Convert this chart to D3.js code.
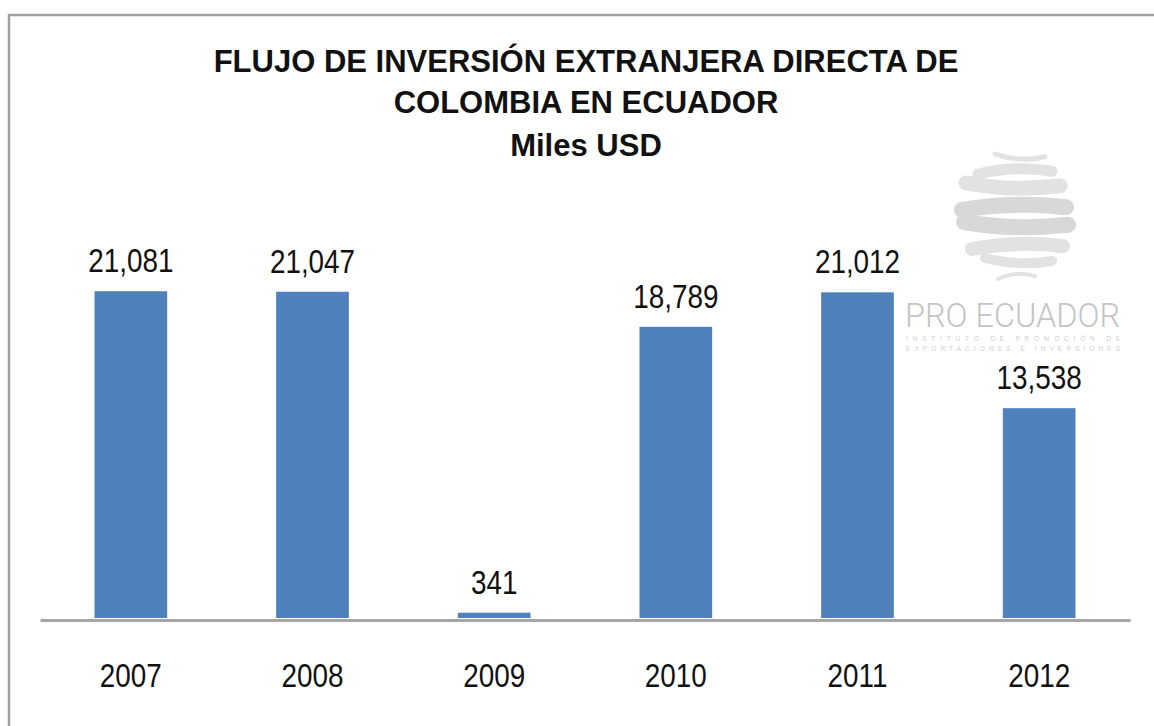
<!DOCTYPE html>
<html><head><meta charset="utf-8">
<script src="https://cdn.jsdelivr.net/npm/d3@7"></script>
<style>
html,body{margin:0;padding:0;background:#fff;}
svg{display:block;}
.nar{font-family:"Liberation Sans",Arial,sans-serif;}
</style></head>
<body><svg id="c" width="1154" height="726"></svg>
<script>
const years = ["2007","2008","2009","2010","2011","2012"];
const values = [21081, 21047, 341, 18789, 21012, 13538];
const titleLines = ["FLUJO DE INVERSIÓN EXTRANJERA DIRECTA DE","COLOMBIA EN ECUADOR","Miles USD"];

const svg = d3.select("#c");
const fmt = d3.format(",");
const SX = 0.82; // narrow font look

// frame (top and left edges visible)
svg.append("path").attr("d","M9,726 V15 H1154").attr("fill","none").attr("stroke","#a0a0a0").attr("stroke-width",2.5);

// watermark logo
const logo = svg.append("g").attr("class","logo");
const swirl = [
  {y:158,x0:995,x1:1045,w:5},
  {y:170,x0:978,x1:1052,w:11},
  {y:187,x0:966,x1:1060,w:15},
  {y:206,x0:962,x1:1066,w:16},
  {y:226,x0:964,x1:1068,w:16},
  {y:245,x0:972,x1:1063,w:14},
  {y:262,x0:985,x1:1052,w:10},
  {y:275,x0:998,x1:1035,w:4}
];
swirl.forEach((s,i)=>{
  const dy = (i%2===0)?-4:4;
  logo.append("path")
    .attr("d",`M${s.x0},${s.y+dy} Q${(s.x0+s.x1)/2},${s.y-dy*1.2} ${s.x1},${s.y+dy*0.3}`)
    .attr("fill","none").attr("stroke",i===3||i===4?"#d8d8d8":"#e2e2e2").attr("stroke-width",s.w).attr("stroke-linecap","round");
});
logo.append("text").attr("x",905).attr("y",327).attr("textLength",215).attr("lengthAdjust","spacingAndGlyphs")
  .attr("font-family","Roboto, 'Liberation Sans', sans-serif").attr("font-weight",300).attr("font-size",34)
  .attr("fill","#c4c4c4").text("PRO ECUADOR");
logo.append("text").attr("x",906).attr("y",341).attr("textLength",214).attr("lengthAdjust","spacing")
  .attr("font-family","'Liberation Sans', sans-serif").attr("font-size",6.5).attr("fill","#cfcfcf").text("INSTITUTO DE PROMOCIÓN DE");
logo.append("text").attr("x",906).attr("y",351).attr("textLength",214).attr("lengthAdjust","spacing")
  .attr("font-family","'Liberation Sans', sans-serif").attr("font-size",6.5).attr("fill","#cfcfcf").text("EXPORTACIONES E INVERSIONES");

// title
const tY = [72,113,156];
svg.append("g").selectAll("text").data(titleLines).join("text")
  .attr("class","nar").attr("x",586).attr("y",(d,i)=>tY[i]).attr("text-anchor","middle")
  .attr("font-weight","bold").attr("font-size",31).attr("fill","#111").text(d=>d);

// scales
const x = d3.scaleBand().domain(years).range([40,1130]).paddingInner(0.6).paddingOuter(0.3);
const y = d3.scaleLinear().domain([0,25000]).range([618, 618-25000*0.0155]);

// bars
svg.append("g").selectAll("rect").data(values).join("rect")
  .attr("x",(d,i)=>x(years[i])).attr("width",x.bandwidth())
  .attr("y",d=>y(d)).attr("height",d=>y(0)-y(d)).attr("fill","#4F81BD");

// axis
const ax = svg.append("g").attr("transform","translate(0,620)")
  .call(d3.axisBottom(x).tickSize(0).tickPadding(0));
ax.select(".domain").attr("stroke","#a6a6a6").attr("stroke-width",3);
ax.selectAll(".tick text").attr("class","nar").attr("font-size",34).attr("fill","#111")
  .attr("dy",0).attr("y",0).attr("transform",`translate(0,67) scale(${SX},1)`);

// value labels
svg.append("g").selectAll("text").data(values).join("text")
  .attr("class","nar")
  .attr("transform",(d,i)=>`translate(${x(years[i])+x.bandwidth()/2},${y(d)-19}) scale(${SX},1)`)
  .attr("text-anchor","middle").attr("font-size",34).attr("fill","#111").text(d=>fmt(d));
</script></body></html>
